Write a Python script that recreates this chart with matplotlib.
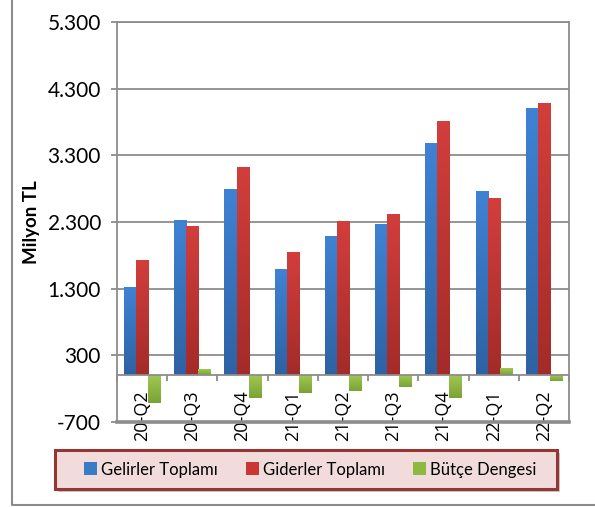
import matplotlib
matplotlib.use("Agg")
import matplotlib.pyplot as plt
from matplotlib.patches import Rectangle, Patch
from matplotlib.lines import Line2D
from matplotlib.colors import LinearSegmentedColormap
import numpy as np

plt.rcParams['font.family'] = ['Lato', 'DejaVu Sans']

categories = ["20-Q2", "20-Q3", "20-Q4", "21-Q1", "21-Q2", "21-Q3", "21-Q4", "22-Q1", "22-Q2"]
gelirler = [1325, 2325, 2790, 1590, 2085, 2265, 3480, 2760, 4005]
giderler = [1725, 2235, 3125, 1845, 2310, 2415, 3810, 2655, 4080]
butce = [-415, 90, -335, -265, -235, -175, -340, 105, -85]
series_names = ["Gelirler Toplamı", "Giderler Toplamı", "Bütçe Dengesi"]
yticks = [-700, 300, 1300, 2300, 3300, 4300, 5300]
ytick_labels = ["-700", "300", "1.300", "2.300", "3.300", "4.300", "5.300"]

colors = ["#3A7BC8", "#C93634", "#8DB940"]
grad = [("#3F82D4", "#2E62A3"), ("#D23E3C", "#A32B29"), ("#A0C752", "#7BA334")]
grid_c = "#8C8C8C"

fig = plt.figure(figsize=(5.95, 5.07), dpi=100)
ax = fig.add_axes([117/595, 1-422/507, (569-117)/595, (422-22)/507])

x = np.arange(len(categories))
w = 0.24
grad_arr = np.linspace(0, 1, 64).reshape(-1, 1)
for vals, off, (ctop, cbot) in zip([gelirler, giderler, butce], [-w, 0, w], grad):
    bars = ax.bar(x + off, vals, width=w, color='none', edgecolor='none', zorder=3)
    cmap = LinearSegmentedColormap.from_list("g", [cbot, ctop])
    for b in bars:
        bx, by, bw, bh = b.get_x(), b.get_y(), b.get_width(), b.get_height()
        y0, y1 = min(by, by + bh), max(by, by + bh)
        im = ax.imshow(grad_arr, cmap=cmap, origin='lower', aspect='auto',
                       extent=[bx, bx + bw, y0, y1], interpolation='bilinear', zorder=3)
        im.set_clip_path(b)

ax.set_xlim(-0.5, len(categories) - 0.5)
ax.set_ylim(yticks[0], yticks[-1])
ax.set_yticks(yticks)
ax.set_yticklabels(ytick_labels, fontsize=15)
ax.yaxis.grid(True, color=grid_c, linewidth=1.3, zorder=0)
ax.set_axisbelow(True)

for s in ['left', 'right', 'top', 'bottom']:
    ax.spines[s].set_color(grid_c)
    ax.spines[s].set_linewidth(1.3)
ax.spines['bottom'].set_position(('data', 0))
ax.spines['bottom'].set_zorder(4)
ax.axhline(yticks[0], color=grid_c, linewidth=2.6, clip_on=False, zorder=5)

ax.tick_params(axis='y', length=4.5, width=1.3, color=grid_c, pad=7)
ax.set_xticks(np.arange(len(categories) + 1) - 0.5)
ax.set_xticklabels([])
ax.tick_params(axis='x', which='major', length=4.5, width=1.3, color=grid_c, direction='out')
ax.set_xticks(x, minor=True)
ax.set_xticklabels(categories, minor=True, rotation=90, fontsize=13, va='top',
                   family=['Open Sans', 'DejaVu Sans'])
ax.tick_params(axis='x', which='minor', length=0, pad=11)

ax.set_ylabel("Milyon TL", fontsize=13.5, fontweight='bold')
ax.yaxis.set_label_coords((40 - 117) / 452, 0.5)

# outer chart border (left and bottom)
fig.add_artist(Line2D([12/595, 12/595, 1.0], [1.0, 1-505/507, 1-505/507],
                      transform=fig.transFigure, color="#8C8C8C", linewidth=1.5))

# legend box
lx0, ly0, lw, lh = 55/595, 1-489/507, (557-55)/595, (489-450)/507
fig.add_artist(Rectangle((lx0 + 3/595, ly0 - 3/507), lw, lh, transform=fig.transFigure,
                         facecolor="#C8C8C8", edgecolor="none", zorder=1))
fig.add_artist(Rectangle((lx0, ly0), lw, lh, transform=fig.transFigure,
                         facecolor="#F2DCDB", edgecolor="#943634", linewidth=2.2, zorder=2))
handles = [Patch(facecolor=c, edgecolor='none') for c in colors]
leg = fig.legend(handles, series_names, loc='center', bbox_to_anchor=(310/595, 1-469.5/507),
                 ncol=3, frameon=False, fontsize=12, handlelength=0.8, handleheight=0.8,
                 handletextpad=0.2, columnspacing=1.7)
leg.set_zorder(3)

fig.savefig("out.png", dpi=100)
